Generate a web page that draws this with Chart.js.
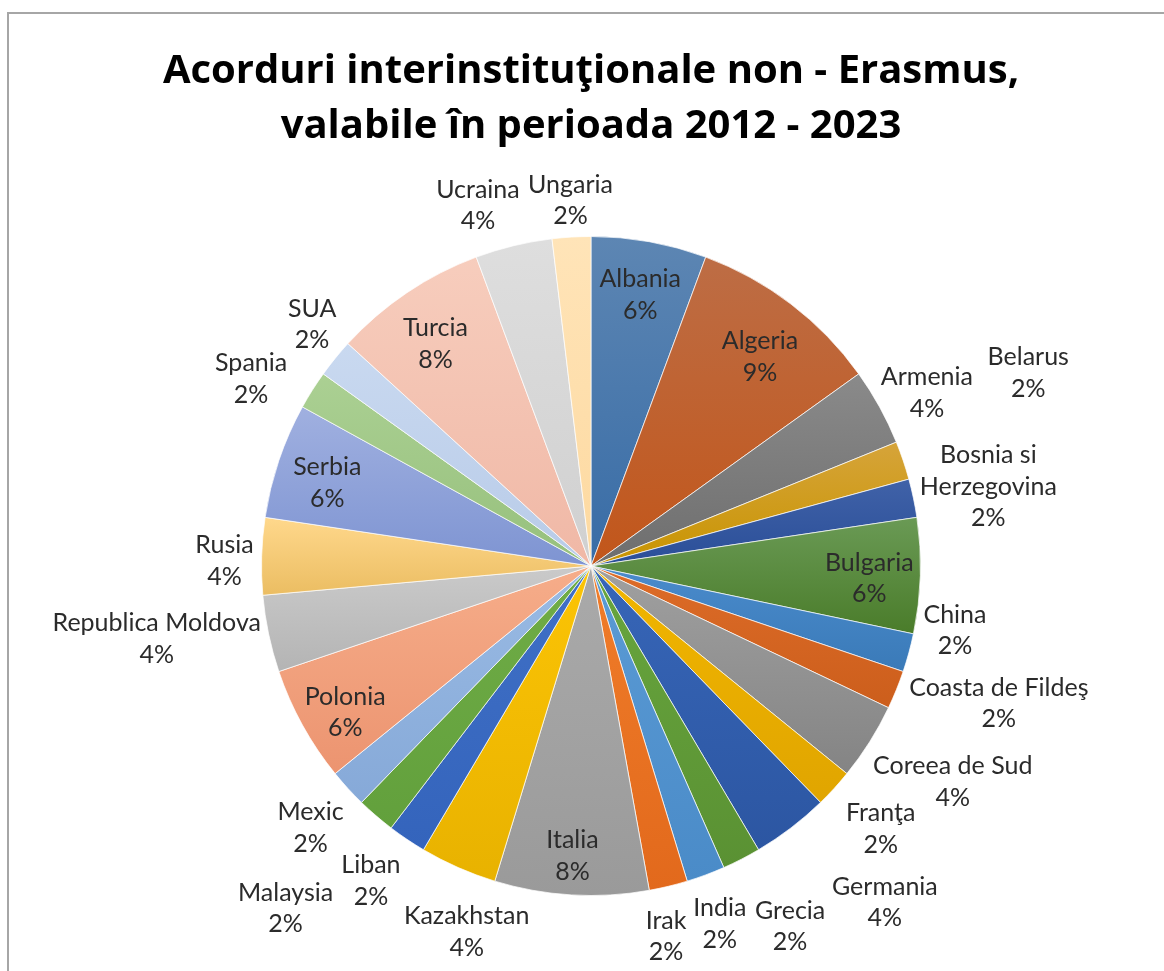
<!DOCTYPE html>
<html>
<head>
<meta charset="utf-8">
<title>Acorduri interinstituţionale non - Erasmus</title>
<script src="https://cdn.jsdelivr.net/npm/chart.js@4.4.1/dist/chart.umd.min.js"></script>
<style>
  html, body { margin: 0; padding: 0; background: #fff; }
  #acorduri { display: block; }
</style>
</head>
<body>
<canvas id="acorduri" width="1164" height="971"></canvas>
<script>
// numar de acorduri pe tara (53 in total)
const tari = ['Albania', 'Algeria', 'Armenia', 'Belarus', 'Bosnia si Herzegovina', 'Bulgaria', 'China',
    'Coasta de Fildeş', 'Coreea de Sud', 'Franţa', 'Germania', 'Grecia', 'India', 'Irak', 'Italia',
    'Kazakhstan', 'Liban', 'Malaysia', 'Mexic', 'Polonia', 'Republica Moldova', 'Rusia', 'Serbia',
    'Spania', 'SUA', 'Turcia', 'Ucraina', 'Ungaria'];
const acorduri = [3, 5, 2, 1, 1, 3, 1, 1, 2, 1, 2, 1, 1, 1, 4, 2, 1, 1, 1, 3, 2, 2, 3, 1, 1, 4, 2, 1];
const titlu = ['Acorduri interinstituţionale non - Erasmus,', 'valabile în perioada 2012 - 2023'];

// culori (sus, jos) pentru gradient
const culori = [
    ['#5d86b3', '#386ca6'], ['#bd6d45', '#c2561a'], ['#8a8a8a', '#6e6e6e'], ['#d6a43a', '#c89400'],
    ['#4062a8', '#2a4e98'], ['#6a9a55', '#4a7c2a'], ['#4a8bcc', '#3a7ab8'], ['#dd6c28', '#cc5e1c'],
    ['#a0a0a0', '#848484'], ['#f2b600', '#e0a500'], ['#3766b8', '#2c56a2'], ['#68a63e', '#5a9133'],
    ['#5b9bd5', '#4a8bc8'], ['#f07d2a', '#e2691c'], ['#aaaaaa', '#9a9a9a'], ['#fcc405', '#e8b200'],
    ['#4070c6', '#3464bc'], ['#70ad47', '#62a03c'], ['#9abbe4', '#86a9d8'], ['#f6ad8a', '#ec9470'],
    ['#cacaca', '#b4b4b4'], ['#ffd88c', '#ebbd62'], ['#a0b0e0', '#7e94d2'], ['#abd093', '#96c07c'],
    ['#c9d9f0', '#b8cbe8'], ['#f7cdbd', '#f0b8a6'], ['#dedede', '#d0d0d0'], ['#ffe4b8', '#fdd9a0']
];

const total = acorduri.reduce((a, b) => a + b, 0);

// titlul are ~857px latime in original
const masura = document.createElement('canvas').getContext('2d');
masura.font = 'bold 100px "Open Sans"';
const marimeTitlu = Math.round(857 / masura.measureText(titlu[0]).width * 1000) / 10;

function gradientFelie(context) {
    const chart = context.chart;
    const i = context.dataIndex;
    const area = chart.chartArea;
    if (!area) return culori[i][1];
    const cx = (area.left + area.right) / 2;
    const cy = (area.top + area.bottom) / 2;
    const r = (Math.min(area.right - area.left, area.bottom - area.top) - 1) / 2;
    let inainte = 0;
    for (let k = 0; k < i; k++) inainte += acorduri[k];
    const a0 = inainte / total * Math.PI * 2 - Math.PI / 2;
    const a1 = (inainte + acorduri[i]) / total * Math.PI * 2 - Math.PI / 2;
    const ys = [cy, cy + r * Math.sin(a0), cy + r * Math.sin(a1)];
    if (a0 <= Math.PI / 2 && a1 >= Math.PI / 2) ys.push(cy + r);
    if (a0 <= -Math.PI / 2 + 1e-6 || a1 >= Math.PI * 1.5 - 1e-6) ys.push(cy - r);
    const g = chart.ctx.createLinearGradient(0, Math.min(...ys), 0, Math.max(...ys));
    g.addColorStop(0, culori[i][0]);
    g.addColorStop(1, culori[i][1]);
    return g;
}

const chenar = {
    id: 'chenar',
    beforeDraw(chart) {
        const c = chart.ctx;
        c.save();
        c.strokeStyle = '#a6a6a6';
        c.lineWidth = 2;
        c.beginPath();
        c.moveTo(chart.width, 13);
        c.lineTo(8, 13);
        c.lineTo(8, chart.height);
        c.stroke();
        c.restore();
    }
};

function rupe(c, text, maxW) {
    const cuvinte = text.split(' ');
    const linii = [];
    let rand = '';
    cuvinte.forEach(w => {
        const test = rand ? rand + ' ' + w : w;
        if (rand && c.measureText(test).width > maxW) {
            linii.push(rand);
            rand = w;
        } else {
            rand = test;
        }
    });
    linii.push(rand);
    return linii;
}

const etichete = {
    id: 'etichete',
    afterDatasetsDraw(chart, args, opts) {
        const c = chart.ctx;
        const meta = chart.getDatasetMeta(0);
        c.save();
        c.font = opts.size + 'px ' + opts.family;
        c.fillStyle = opts.color;
        c.textAlign = 'center';
        c.textBaseline = 'middle';
        meta.data.forEach((arc, i) => {
            const p = arc.getProps(['x', 'y', 'startAngle', 'endAngle', 'outerRadius'], true);
            const mid = (p.startAngle + p.endAngle) / 2;
            const procent = Math.round(acorduri[i] / total * 100) + '%';
            const linii = rupe(c, tari[i], opts.maxWidth).concat(procent);
            const w = Math.max(...linii.map(t => c.measureText(t).width));
            const h = linii.length * opts.lineHeight;
            let x, y;
            if (p.endAngle - p.startAngle > 0.3) {
                x = p.x + Math.cos(mid) * p.outerRadius * 0.845;
                y = p.y + Math.sin(mid) * p.outerRadius * 0.845;
            } else {
                const ax = p.x + Math.cos(mid) * (p.outerRadius + opts.gap);
                const ay = p.y + Math.sin(mid) * (p.outerRadius + opts.gap);
                x = ax + Math.cos(mid) * w / 2;
                y = ay + Math.sin(mid) * h / 2;
            }
            const s = opts.shift[tari[i]];
            if (s) { x += s[0]; y += s[1]; }
            linii.forEach((t, k) => {
                c.fillText(t, x, y - h / 2 + opts.lineHeight / 2 + k * opts.lineHeight);
            });
        });
        c.restore();
    }
};

const ctx = document.getElementById('acorduri');
const graficAcorduri = new Chart(ctx, {
    type: 'pie',
    data: {
        labels: tari,
        datasets: [{
            data: acorduri,
            backgroundColor: gradientFelie,
            borderColor: 'rgba(255, 255, 255, 0.7)',
            borderWidth: 1
        }]
    },
    options: {
        responsive: false,
        animation: false,
        layout: {
            padding: { top: 12, left: 161, right: 143, bottom: 75 }
        },
        plugins: {
            legend: { display: false },
            tooltip: { enabled: false },
            title: {
                display: true,
                text: titlu,
                color: '#000000',
                font: { family: 'Open Sans', size: marimeTitlu, weight: 'bold', lineHeight: 55 / marimeTitlu },
                padding: { top: 32, bottom: 82 }
            },
            etichete: {
                family: 'Lato',
                size: 25,
                lineHeight: 31.5,
                color: '#2b2b2b',
                gap: 8,
                maxWidth: 220,
                shift: {
                    'Albania': [0, 3], 'Algeria': [0, 12], 'Armenia': [0, 5], 'Belarus': [79, -75],
                    'Bulgaria': [0, 4], 'China': [8, -33], 'Coasta de Fildeş': [12, -1],
                    'Coreea de Sud': [9, 19], 'Franţa': [15, 14], 'Germania': [57, 43], 'Grecia': [29, 32],
                    'India': [2, 12], 'Irak': [-9, 12], 'Italia': [-2, 12], 'Kazakhstan': [37, 28],
                    'Liban': [-15, 9], 'Malaysia': [-54, 63], 'Mexic': [-7, 13], 'Polonia': [-2, 12],
                    'Republica Moldova': [-2, -3], 'Rusia': [0, 6], 'Serbia': [0, 6],
                    'Spania': [-24, 10], 'SUA': [2, -9], 'Turcia': [0, 9], 'Ucraina': [-24, -2],
                    'Ungaria': [2, 3]
                }
            }
        }
    },
    plugins: [chenar, etichete]
});
</script>
</body>
</html>
